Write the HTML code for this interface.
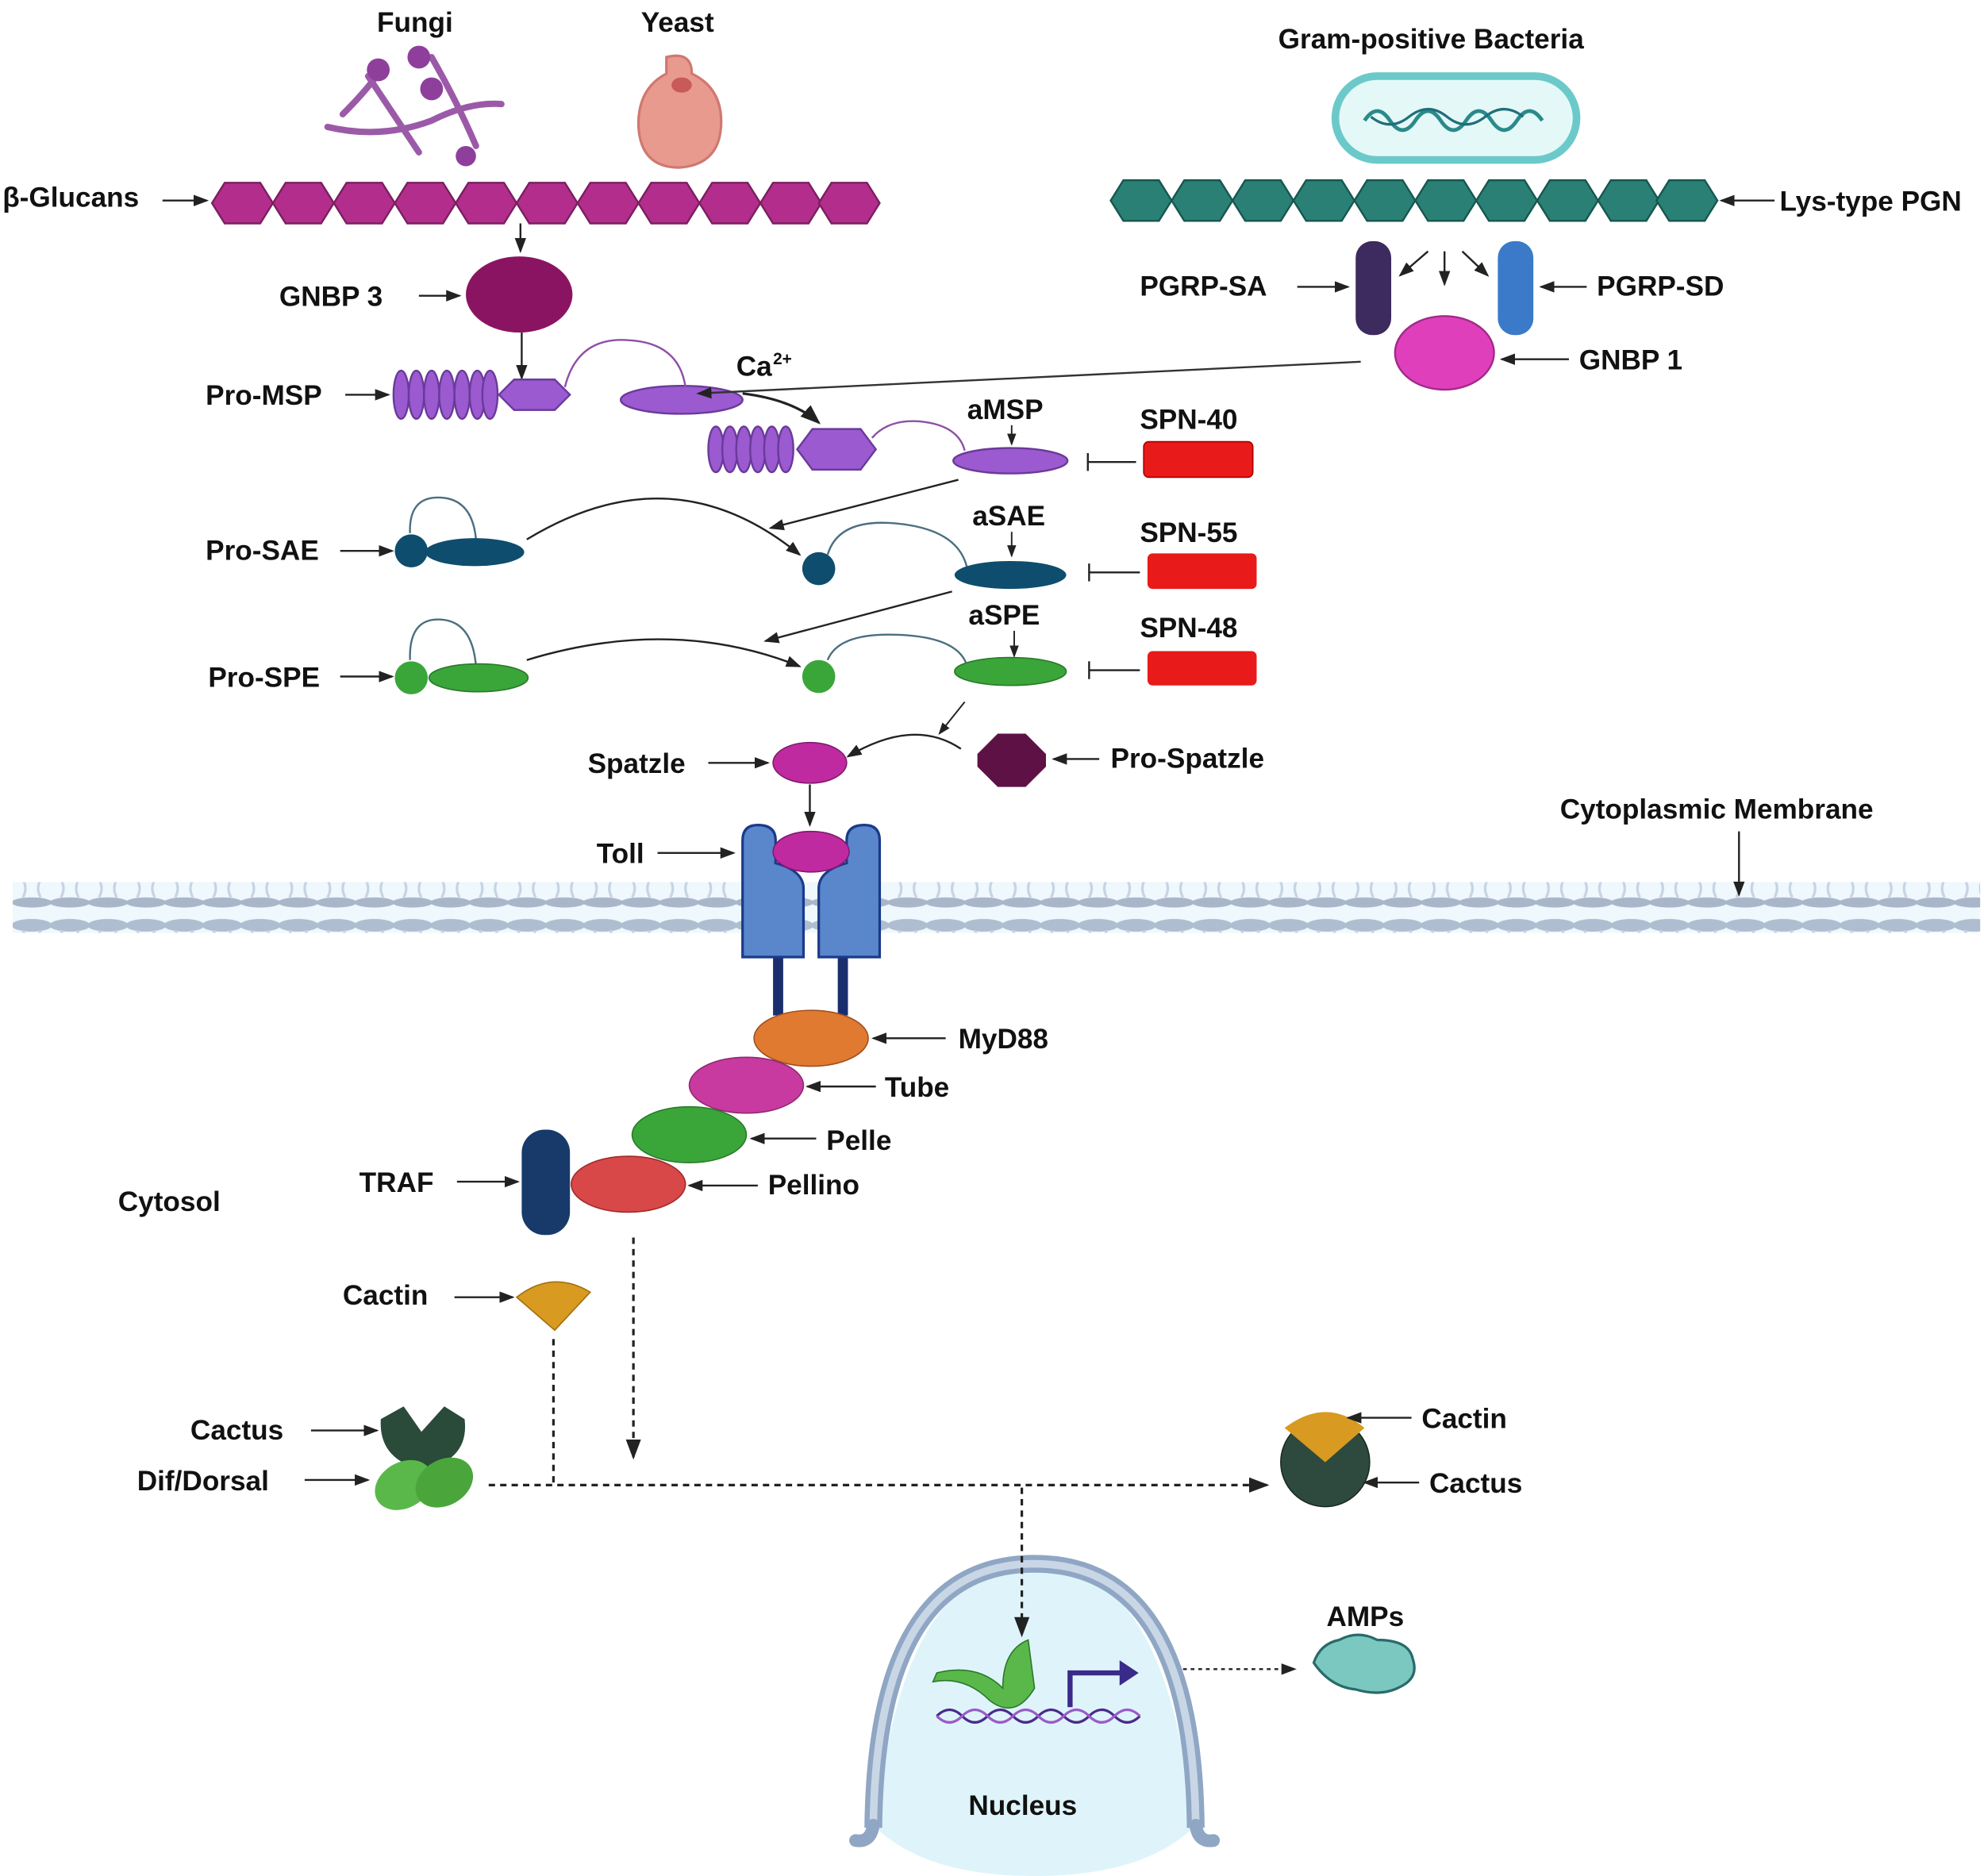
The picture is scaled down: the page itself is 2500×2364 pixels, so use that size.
<!DOCTYPE html>
<html><head><meta charset="utf-8"><style>
html,body{margin:0;padding:0;background:#fff;width:2500px;height:2364px;overflow:hidden}
svg{display:block}
text{font-family:"Liberation Sans",sans-serif;font-weight:bold;font-size:22px;fill:#111}
</style></head><body>
<svg width="2500" height="2364" viewBox="0 0 1563 1478" xmlns="http://www.w3.org/2000/svg">
<defs>
<marker id="a" markerWidth="8" markerHeight="8" refX="7" refY="4" orient="auto"><path d="M0,1 L8,4 L0,7 z" fill="#222"/></marker>
<pattern id="mem" x="10" y="0" width="30" height="40" patternUnits="userSpaceOnUse">
<ellipse cx="15" cy="9" rx="16" ry="5" fill="#aebdd0"/>
<ellipse cx="15" cy="31" rx="16" ry="4" fill="#a9b6ca"/>
<path d="M8,13 Q12,20 8,27 M22,13 Q18,20 22,27" stroke="#c6d3e3" stroke-width="2" fill="none"/>
</pattern>
</defs>
<text x="297" y="25">Fungi</text>
<text x="505" y="25">Yeast</text>
<text x="1007" y="38">Gram-positive Bacteria</text>
<g stroke="#9b5aa8" stroke-width="5" fill="none" stroke-linecap="round">
<path d="M258,100 Q300,110 340,95 Q370,80 395,82"/><path d="M290,60 Q310,90 330,120"/><path d="M340,45 Q360,80 375,115"/><path d="M270,90 Q290,70 300,55"/>
</g>
<g fill="#8e3f9c"><circle cx="298" cy="55" r="9"/><circle cx="330" cy="45" r="9"/><circle cx="340" cy="70" r="9"/><circle cx="367" cy="123" r="8"/></g>
<path d="M525,45 Q545,40 545,58 Q570,70 568,100 Q566,130 535,132 Q505,132 503,100 Q502,70 525,58 Z" fill="#e89a8e" stroke="#d07870" stroke-width="2"/>
<ellipse cx="537" cy="67" rx="8" ry="6" fill="#c85a5a"/>
<rect x="1052" y="60" width="190" height="66" rx="33" fill="#e5f8f8" stroke="#6cc9c9" stroke-width="6"/>
<path d="M1075,95 q10,-15 20,0 q10,15 20,0 q10,-15 20,0 q10,15 20,0 q10,-15 20,0 q10,15 20,0 q10,-15 20,0" stroke="#2a8a8a" stroke-width="3" fill="none"/>
<path d="M1080,92 q15,12 30,0 q15,-12 30,0 q15,12 30,0 q15,-12 30,0" stroke="#1f6f7a" stroke-width="2" fill="none"/>
<g fill="#b32e8c" stroke="#7a1f60" stroke-width="1.5">
<path id="h" d="M167,160 l10,-16 h28 l10,16 l-10,16 h-28 z"/>
<use href="#h" x="48"/><use href="#h" x="96"/><use href="#h" x="144"/><use href="#h" x="192"/><use href="#h" x="240"/><use href="#h" x="288"/><use href="#h" x="336"/><use href="#h" x="384"/><use href="#h" x="432"/><use href="#h" x="478"/>
</g>
<text x="2" y="163">β-Glucans</text><line x1="128" y1="158" x2="163" y2="158" stroke="#222" stroke-width="1.5" marker-end="url(#a)"/>
<g fill="#2a8075" stroke="#17574f" stroke-width="1.5">
<path id="g" d="M875,158 l10,-16 h28 l10,16 l-10,16 h-28 z"/>
<use href="#g" x="48"/><use href="#g" x="96"/><use href="#g" x="144"/><use href="#g" x="192"/><use href="#g" x="240"/><use href="#g" x="288"/><use href="#g" x="336"/><use href="#g" x="384"/><use href="#g" x="430"/>
</g>
<text x="1402" y="166">Lys-type PGN</text><line x1="1398" y1="158" x2="1356" y2="158" stroke="#222" stroke-width="1.5" marker-end="url(#a)"/>
<rect x="1068" y="190" width="28" height="74" rx="13" fill="#3d2a5e"/>
<rect x="1180" y="190" width="28" height="74" rx="13" fill="#3a7ac8"/>
<ellipse cx="1138" cy="278" rx="39" ry="29" fill="#e03fbc" stroke="#a02a88" stroke-width="1.5"/>
<g stroke="#222" stroke-width="1.5"><line x1="1125" y1="198" x2="1103" y2="217" marker-end="url(#a)"/><line x1="1138" y1="198" x2="1138" y2="224" marker-end="url(#a)"/><line x1="1152" y1="198" x2="1172" y2="217" marker-end="url(#a)"/></g>
<text x="898" y="233">PGRP-SA</text><line x1="1022" y1="226" x2="1062" y2="226" stroke="#222" stroke-width="1.5" marker-end="url(#a)"/>
<text x="1258" y="233">PGRP-SD</text><line x1="1250" y1="226" x2="1214" y2="226" stroke="#222" stroke-width="1.5" marker-end="url(#a)"/>
<text x="1244" y="291">GNBP 1</text><line x1="1236" y1="283" x2="1183" y2="283" stroke="#222" stroke-width="1.5" marker-end="url(#a)"/>
<line x1="410" y1="176" x2="410" y2="198" stroke="#222" stroke-width="1.5" marker-end="url(#a)"/>
<ellipse cx="409" cy="232" rx="42" ry="30" fill="#8a1462"/>
<text x="220" y="241">GNBP 3</text><line x1="330" y1="233" x2="362" y2="233" stroke="#222" stroke-width="1.5" marker-end="url(#a)"/>
<line x1="411" y1="262" x2="411" y2="298" stroke="#222" stroke-width="1.5" marker-end="url(#a)"/>
<g fill="#9b5ad0" stroke="#6a3a9a" stroke-width="1.5">
<ellipse cx="316" cy="311" rx="6" ry="19"/><ellipse cx="328" cy="311" rx="6" ry="19"/><ellipse cx="340" cy="311" rx="6" ry="19"/><ellipse cx="352" cy="311" rx="6" ry="19"/><ellipse cx="364" cy="311" rx="6" ry="19"/><ellipse cx="376" cy="311" rx="6" ry="19"/><ellipse cx="386" cy="311" rx="6" ry="19"/>
<path d="M393,311 l12,-12 h32 l12,12 l-12,12 h-32 z"/>
<ellipse cx="537" cy="315" rx="48" ry="11"/>
</g>
<path d="M445,305 Q455,265 495,268 Q535,270 540,305" stroke="#8e4fa8" stroke-width="1.5" fill="none"/>
<text x="162" y="319">Pro-MSP</text><line x1="272" y1="311" x2="306" y2="311" stroke="#222" stroke-width="1.5" marker-end="url(#a)"/>
<text x="580" y="296">Ca</text><text x="609" y="287" style="font-size:13px">2+</text>
<line x1="1072" y1="285" x2="550" y2="310" stroke="#333" stroke-width="1.5" marker-end="url(#a)"/>
<path d="M585,310 Q625,315 645,333" stroke="#222" stroke-width="2" fill="none" marker-end="url(#a)"/>
<g fill="#9b5ad0" stroke="#6a3a9a" stroke-width="1.5">
<ellipse cx="564" cy="354" rx="6" ry="18"/><ellipse cx="575" cy="354" rx="6" ry="18"/><ellipse cx="586" cy="354" rx="6" ry="18"/><ellipse cx="597" cy="354" rx="6" ry="18"/><ellipse cx="608" cy="354" rx="6" ry="18"/><ellipse cx="619" cy="354" rx="6" ry="18"/>
<path d="M628,354 l12,-16 h38 l12,16 l-12,16 h-38 z"/>
<ellipse cx="796" cy="363" rx="45" ry="10"/>
</g>
<path d="M687,345 Q700,330 725,332 Q755,335 760,355" stroke="#8e4fa8" stroke-width="1.5" fill="none"/>
<text x="762" y="330">aMSP</text><line x1="797" y1="335" x2="797" y2="350" stroke="#222" stroke-width="1.2" marker-end="url(#a)"/>
<rect x="901" y="348" width="86" height="28" rx="4" fill="#e81a1a" stroke="#a00" stroke-width="1"/>
<text x="898" y="338">SPN-40</text>
<line x1="895" y1="364" x2="857" y2="364" stroke="#222" stroke-width="1.5"/><line x1="857" y1="357" x2="857" y2="371" stroke="#222" stroke-width="1.5"/>
<line x1="755" y1="378" x2="607" y2="416" stroke="#222" stroke-width="1.5" marker-end="url(#a)"/>
<path d="M323,420 Q322,392 345,392 Q372,392 375,425" stroke="#4a6f80" stroke-width="1.5" fill="none"/>
<circle cx="324" cy="434" r="13" fill="#0e4d6e"/>
<ellipse cx="374" cy="435" rx="39" ry="11" fill="#0e4d6e"/>
<text x="162" y="441">Pro-SAE</text><line x1="268" y1="434" x2="309" y2="434" stroke="#222" stroke-width="1.5" marker-end="url(#a)"/>
<path d="M415,425 Q530,355 630,437" stroke="#222" stroke-width="1.5" fill="none" marker-end="url(#a)"/>
<circle cx="645" cy="448" r="13" fill="#0e4d6e"/>
<path d="M652,437 Q660,410 700,412 Q755,415 762,448" stroke="#4a6f80" stroke-width="1.5" fill="none"/>
<ellipse cx="796" cy="453" rx="44" ry="11" fill="#0e4d6e"/>
<text x="766" y="414">aSAE</text><line x1="797" y1="419" x2="797" y2="438" stroke="#222" stroke-width="1.2" marker-end="url(#a)"/>
<rect x="904" y="436" width="86" height="28" rx="4" fill="#e81a1a"/>
<text x="898" y="427">SPN-55</text>
<line x1="898" y1="451" x2="858" y2="451" stroke="#222" stroke-width="1.5"/><line x1="858" y1="444" x2="858" y2="458" stroke="#222" stroke-width="1.5"/>
<line x1="750" y1="466" x2="603" y2="505" stroke="#222" stroke-width="1.5" marker-end="url(#a)"/>
<path d="M323,520 Q322,488 345,488 Q372,488 375,525" stroke="#4a6f80" stroke-width="1.5" fill="none"/>
<circle cx="324" cy="534" r="13" fill="#3aa63a"/>
<ellipse cx="377" cy="534" rx="39" ry="11" fill="#3aa63a" stroke="#2a7a2a"/>
<text x="164" y="541">Pro-SPE</text><line x1="268" y1="533" x2="309" y2="533" stroke="#222" stroke-width="1.5" marker-end="url(#a)"/>
<path d="M415,520 Q530,485 630,525" stroke="#222" stroke-width="1.5" fill="none" marker-end="url(#a)"/>
<circle cx="645" cy="533" r="13" fill="#3aa63a"/>
<path d="M652,520 Q660,500 700,500 Q755,500 762,525" stroke="#4a6f80" stroke-width="1.5" fill="none"/>
<ellipse cx="796" cy="529" rx="44" ry="11" fill="#3aa63a" stroke="#2a7a2a"/>
<text x="763" y="492">aSPE</text><line x1="799" y1="497" x2="799" y2="517" stroke="#222" stroke-width="1.2" marker-end="url(#a)"/>
<rect x="904" y="513" width="86" height="27" rx="4" fill="#e81a1a"/>
<text x="898" y="502">SPN-48</text>
<line x1="898" y1="528" x2="858" y2="528" stroke="#222" stroke-width="1.5"/><line x1="858" y1="521" x2="858" y2="535" stroke="#222" stroke-width="1.5"/>
<line x1="760" y1="553" x2="740" y2="578" stroke="#222" stroke-width="1.2" marker-end="url(#a)"/>
<ellipse cx="638" cy="601" rx="29" ry="16" fill="#c02aa0" stroke="#801a70"/>
<text x="463" y="609">Spatzle</text><line x1="558" y1="601" x2="605" y2="601" stroke="#222" stroke-width="1.5" marker-end="url(#a)"/>
<path d="M757,590 Q720,565 668,596" stroke="#222" stroke-width="1.5" fill="none" marker-end="url(#a)"/>
<path d="M786,578 h22 l16,16 v10 l-16,16 h-22 l-16,-16 v-10 z" fill="#5e1145"/>
<text x="875" y="605">Pro-Spatzle</text><line x1="866" y1="598" x2="830" y2="598" stroke="#222" stroke-width="1.5" marker-end="url(#a)"/>
<line x1="638" y1="618" x2="638" y2="650" stroke="#222" stroke-width="1.5" marker-end="url(#a)"/>
<rect x="10" y="695" width="1550" height="40" fill="#eef8fd"/>
<rect x="10" y="695" width="1550" height="40" fill="url(#mem)"/>
<text x="1229" y="645">Cytoplasmic Membrane</text>
<line x1="1370" y1="655" x2="1370" y2="705" stroke="#222" stroke-width="1.5" marker-end="url(#a)"/>
<line x1="613" y1="750" x2="613" y2="800" stroke="#1a2e6e" stroke-width="8"/>
<line x1="664" y1="750" x2="664" y2="800" stroke="#1a2e6e" stroke-width="8"/>
<path d="M585,662 q0,-12 12,-12 q14,0 14,12 v18 q22,6 22,20 v54 h-48 z" fill="#5a86cc" stroke="#1a3a8a" stroke-width="2"/>
<path d="M693,662 q0,-12 -12,-12 q-14,0 -14,12 v18 q-22,6 -22,20 v54 h48 z" fill="#5a86cc" stroke="#1a3a8a" stroke-width="2"/>
<ellipse cx="639" cy="671" rx="30" ry="16" fill="#c02aa0" stroke="#801a70"/>
<text x="470" y="680">Toll</text><line x1="518" y1="672" x2="578" y2="672" stroke="#222" stroke-width="1.5" marker-end="url(#a)"/>
<ellipse cx="639" cy="818" rx="45" ry="22" fill="#e07a30" stroke="#a05020"/>
<ellipse cx="588" cy="855" rx="45" ry="22" fill="#c83aa0" stroke="#902a70"/>
<ellipse cx="543" cy="894" rx="45" ry="22" fill="#3aa63a" stroke="#2a7a2a"/>
<ellipse cx="495" cy="933" rx="45" ry="22" fill="#d84848" stroke="#a02a2a"/>
<rect x="411" y="890" width="38" height="83" rx="18" fill="#173a6a"/>
<text x="755" y="826">MyD88</text><line x1="745" y1="818" x2="688" y2="818" stroke="#222" stroke-width="1.5" marker-end="url(#a)"/>
<text x="697" y="864">Tube</text><line x1="690" y1="856" x2="636" y2="856" stroke="#222" stroke-width="1.5" marker-end="url(#a)"/>
<text x="651" y="906">Pelle</text><line x1="643" y1="897" x2="592" y2="897" stroke="#222" stroke-width="1.5" marker-end="url(#a)"/>
<text x="605" y="941">Pellino</text><line x1="597" y1="934" x2="543" y2="934" stroke="#222" stroke-width="1.5" marker-end="url(#a)"/>
<text x="283" y="939">TRAF</text><line x1="360" y1="931" x2="408" y2="931" stroke="#222" stroke-width="1.5" marker-end="url(#a)"/>
<text x="93" y="954">Cytosol</text>
<path d="M407,1022 Q435,1000 465,1018 L437,1048 Z" fill="#d89a20" stroke="#a07010"/>
<text x="270" y="1028">Cactin</text><line x1="358" y1="1022" x2="404" y2="1022" stroke="#222" stroke-width="1.5" marker-end="url(#a)"/>
<g stroke="#222" stroke-width="2" stroke-dasharray="5,4" fill="none">
<line x1="499" y1="975" x2="499" y2="1148" marker-end="url(#a)"/>
<line x1="436" y1="1055" x2="436" y2="1168"/>
<line x1="385" y1="1170" x2="998" y2="1170" marker-end="url(#a)"/>
</g>
<path d="M300,1118 L318,1108 L332,1128 L350,1108 L366,1118 Q370,1150 333,1158 Q298,1150 300,1118 Z" fill="#2a4a3a"/>
<ellipse cx="318" cy="1170" rx="24" ry="18" fill="#5ab84a" transform="rotate(-30 318 1170)"/>
<ellipse cx="350" cy="1168" rx="24" ry="18" fill="#4aa63a" transform="rotate(-30 350 1168)"/>
<text x="150" y="1134">Cactus</text><line x1="245" y1="1127" x2="297" y2="1127" stroke="#222" stroke-width="1.5" marker-end="url(#a)"/>
<text x="108" y="1174">Dif/Dorsal</text><line x1="240" y1="1166" x2="290" y2="1166" stroke="#222" stroke-width="1.5" marker-end="url(#a)"/>
<circle cx="1044" cy="1152" r="35" fill="#2e4a3e" stroke="#1a2a22"/>
<path d="M1012,1125 Q1045,1100 1075,1125 L1044,1152 Z" fill="#d89a20"/>
<text x="1120" y="1125">Cactin</text><line x1="1112" y1="1117" x2="1062" y2="1117" stroke="#222" stroke-width="1.5" marker-end="url(#a)"/>
<text x="1126" y="1176">Cactus</text><line x1="1118" y1="1168" x2="1075" y2="1168" stroke="#222" stroke-width="1.5" marker-end="url(#a)"/>
<!-- nucleus -->
<path d="M690,1440 Q710,1232 815,1232 Q920,1232 940,1440 Q900,1478 815,1478 Q730,1478 690,1440 Z" fill="#def4fa"/>
<path d="M688,1440 Q690,1232 815,1232 Q940,1232 942,1440" stroke="#8fa6c4" stroke-width="14" fill="none"/>
<path d="M688,1440 Q690,1232 815,1232 Q940,1232 942,1440" stroke="#c8d6e6" stroke-width="6" fill="none"/>
<path d="M688,1438 Q686,1452 674,1450 M942,1438 Q944,1452 956,1450" stroke="#8fa6c4" stroke-width="10" fill="none" stroke-linecap="round"/>
<line x1="805" y1="1172" x2="805" y2="1288" stroke="#222" stroke-width="2" stroke-dasharray="5,4" marker-end="url(#a)"/>
<path d="M738,1352 q10,-10 20,0 t20,0 t20,0 t20,0 t20,0 t20,0 t20,0 t20,0" stroke="#4a2a8a" stroke-width="2" fill="none"/>
<path d="M738,1352 q10,10 20,0 t20,0 t20,0 t20,0 t20,0 t20,0 t20,0 t20,0" stroke="#9a5ac8" stroke-width="2" fill="none"/>
<path d="M735,1325 Q760,1320 780,1340 Q800,1355 815,1330 L810,1292 Q790,1300 790,1330 Q770,1310 738,1318 Z" fill="#5ab84a" stroke="#2a7a2a"/>
<path d="M843,1345 V1318 H885" stroke="#3a2a8a" stroke-width="4" fill="none"/><path d="M882,1308 L897,1318 L882,1328 Z" fill="#3a2a8a"/>
<text x="763" y="1430">Nucleus</text>
<line x1="932" y1="1315" x2="1020" y2="1315" stroke="#222" stroke-width="1.5" stroke-dasharray="3,3" marker-end="url(#a)"/>
<text x="1045" y="1281">AMPs</text>
<path d="M1035,1310 q5,-15 20,-18 q15,-8 30,0 q25,0 28,15 q5,15 -10,22 q-15,8 -35,2 q-20,-2 -33,-21 z" fill="#7ac8c0" stroke="#2a6a6a" stroke-width="2"/>
</svg>
</body></html>
